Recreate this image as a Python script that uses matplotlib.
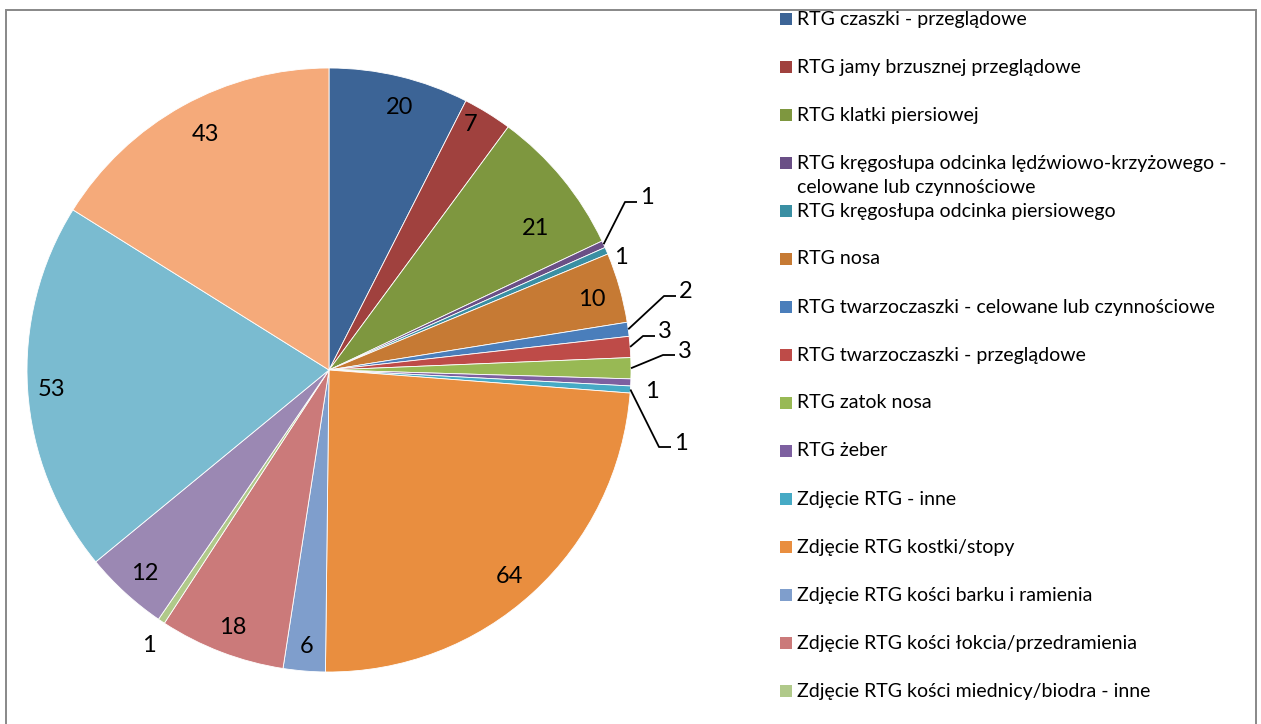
import matplotlib
matplotlib.use("Agg")
import matplotlib.pyplot as plt
from matplotlib.patches import Rectangle
import numpy as np

labels = [
    "RTG czaszki - przeglądowe",
    "RTG jamy brzusznej przeglądowe",
    "RTG klatki piersiowej",
    "RTG kręgosłupa odcinka lędźwiowo-krzyżowego -\ncelowane lub czynnościowe",
    "RTG kręgosłupa odcinka piersiowego",
    "RTG nosa",
    "RTG twarzoczaszki - celowane lub czynnościowe",
    "RTG twarzoczaszki - przeglądowe",
    "RTG zatok nosa",
    "RTG żeber",
    "Zdjęcie RTG - inne",
    "Zdjęcie RTG kostki/stopy",
    "Zdjęcie RTG kości barku i ramienia",
    "Zdjęcie RTG kości łokcia/przedramienia",
    "Zdjęcie RTG kości miednicy/biodra - inne",
    "Zdjęcie RTG kości nadgarstka/ręki",
    "Zdjęcie RTG kości podudzia/kolana",
    "Zdjęcie RTG kości udowej",
]
values = [20, 7, 21, 1, 1, 10, 2, 3, 3, 1, 1, 64, 6, 18, 1, 12, 53, 43]
colors = ["#3C6496", "#A0413E", "#7E973F", "#6A4F86", "#3A8FA3", "#C67A34",
          "#4A7EBB", "#BE4B48", "#98B954", "#7D60A0", "#46AAC5", "#E98E3F",
          "#7F9ECC", "#CB7A7A", "#B0C98A", "#9B88B3", "#7ABBD0", "#F5AA7A"]

FONT = "Lato"
W, H = 1261, 724
fig = plt.figure(figsize=(W / 100, H / 100), dpi=100)
ax = fig.add_axes([0, 0, 1, 1])

def py(y):
    return H - y

cx, cy, R = 329, py(370), 302
wedges, _ = ax.pie(values, colors=colors, startangle=90, counterclock=False,
                   center=(cx, cy), radius=R, frame=True,
                   wedgeprops=dict(edgecolor="white", linewidth=0.6))
ax.set_xlim(0, W)
ax.set_ylim(0, H)
ax.set_aspect("equal")
ax.axis("off")

total = sum(values)
cum = np.cumsum([0] + values[:-1])
mid_deg = 90 - 360 * (cum + np.array(values) / 2) / total

# inside labels: (radial fraction, angular tweak in degrees)
inside = {0: (0.9, -1.6), 1: (0.94, 1.7), 2: (0.83, -5.0), 5: (0.9, -0.9),
          11: (0.91, -1.3), 12: (0.92, 0.2), 13: (0.91, 0.3),
          15: (0.91, 0.3), 16: (0.92, 0.4), 17: (0.88, -1.4)}
# outside labels: text offsets from centre (pixels, y down), with leader or not
outside = {3: ((318, -172), True), 4: ((292, -112), False), 6: ((357, -78), True),
           7: ((336, -38), True), 8: ((356, -19), True), 9: ((323, 22), False),
           10: ((352, 73), True), 14: ((-180, 275), False)}

lab_fs = 17
for i, v in enumerate(values):
    if i in inside:
        f, da = inside[i]
        a = np.deg2rad(mid_deg[i] + da)
        ax.text(cx + f * R * np.cos(a), cy + f * R * np.sin(a), str(v),
                ha="center", va="center", fontsize=lab_fs, family=FONT, color="black")
    elif i in outside:
        (dx, dy), leader = outside[i]
        tx, ty = cx + dx, cy - dy
        ax.text(tx, ty, str(v), ha="center", va="center", fontsize=lab_fs,
                family=FONT, color="black")
        if leader:
            a = np.deg2rad(mid_deg[i])
            ex, ey = cx + R * np.cos(a), cy + R * np.sin(a)
            ax.plot([ex, tx - 22, tx - 10], [ey, ty - 4, ty - 4],
                    color="black", lw=1.3, solid_capstyle="butt")

# legend
leg_y0, leg_dy = 19, 48
lx = 780
for i, (lab, c) in enumerate(zip(labels, colors)):
    y = leg_y0 + i * leg_dy
    if y > H:
        break
    ax.add_patch(Rectangle((lx, py(y) - 6), 12, 12, facecolor=c, edgecolor="none"))
    first, *rest = lab.split("\n")
    ax.text(lx + 17, py(y), first, ha="left", va="center",
            fontsize=14, family=FONT, color="black")
    for k, line in enumerate(rest):
        ax.text(lx + 17, py(y + 24 * (k + 1)), line, ha="left", va="center",
                fontsize=14, family=FONT, color="black")

# outer border
ax.add_patch(Rectangle((5.5, py(735)), 1250, 725, fill=False, edgecolor="#888888",
                       linewidth=1.4, clip_on=False))

fig.savefig("out.png", dpi=100)
